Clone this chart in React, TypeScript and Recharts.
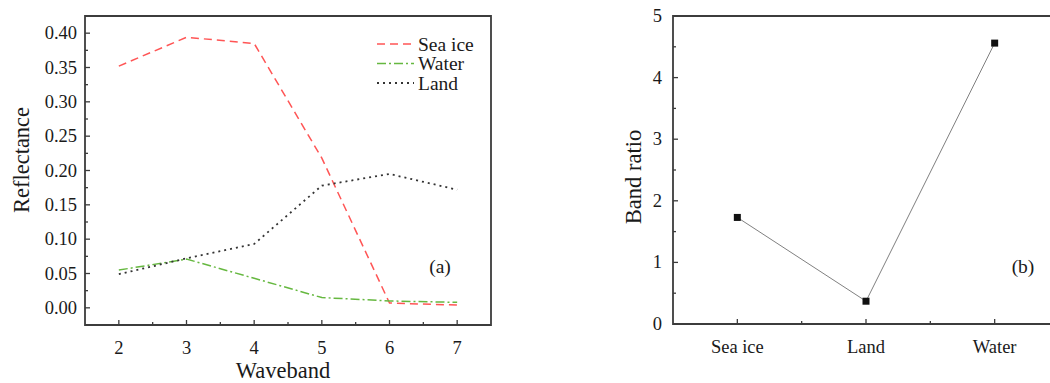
import React from "react";
import { LineChart, Line, XAxis, YAxis, ReferenceArea, Customized } from "recharts";

// panel (a): reflectance by waveband
const wavebands = [2, 3, 4, 5, 6, 7];
const seaIce = [0.352, 0.394, 0.385, 0.218, 0.007, 0.004];
const water = [0.055, 0.071, 0.043, 0.015, 0.01, 0.008];
const land = [0.049, 0.072, 0.093, 0.178, 0.195, 0.172];

const xTicksA = [2, 2.5, 3, 3.5, 4, 4.5, 5, 5.5, 6, 6.5, 7];
const xMajorA = [2, 3, 4, 5, 6, 7];
const yTicksA = [0, 0.025, 0.05, 0.075, 0.1, 0.125, 0.15, 0.175, 0.2, 0.225, 0.25, 0.275, 0.3, 0.325, 0.35, 0.375, 0.4];
const yMajorA = [0, 0.05, 0.1, 0.15, 0.2, 0.25, 0.3, 0.35, 0.4];

// panel (b): band ratio by surface type
const classes = ["Sea ice", "Land", "Water"];
const bandRatio = [1.73, 0.37, 4.56];

const xTicksB = [1, 1.5, 2, 2.5, 3];
const xMajorB = [1, 2, 3];
const yTicksB = [0, 0.5, 1, 1.5, 2, 2.5, 3, 3.5, 4, 4.5, 5];
const yMajorB = [0, 1, 2, 3, 4, 5];

const FONT = "'Liberation Serif', 'Times New Roman', serif";
const AXIS = "#3c3c3c";
const TEXT = "#1a1a1a";
const TICK_FS = 18.5;

const series = [
  { key: "seaIce", name: "Sea ice", color: "#ff5555", dash: "8 5", width: 1.5 },
  { key: "water", name: "Water", color: "#66b840", dash: "9 3 2 3", width: 1.5 },
  { key: "land", name: "Land", color: "#333333", dash: "2 4", width: 1.8 },
];

const dataA = wavebands.map((w, i) => ({ w, seaIce: seaIce[i], water: water[i], land: land[i] }));
const dataB = classes.map((c, i) => ({ pos: i + 1, name: c, ratio: bandRatio[i] }));

const xTick = (majors: number[], fmt: (v: number) => string) => (props: any) => {
  const { x, y, payload } = props;
  const major = majors.includes(payload.value);
  return (
    <g>
      <line x1={x} x2={x} y1={y} y2={y - (major ? 5 : 3)} stroke={AXIS} strokeWidth={1.3} />
      {major && (
        <text x={x} y={y + 23} textAnchor="middle" dominantBaseline="central" fontSize={TICK_FS} fontFamily={FONT} fill={TEXT}>
          {fmt(payload.value)}
        </text>
      )}
    </g>
  );
};

const yTick = (majors: number[], fmt: (v: number) => string, gap: number) => (props: any) => {
  const { x, y, payload } = props;
  const major = majors.includes(payload.value);
  return (
    <g>
      <line x1={x} x2={x + (major ? 5 : 3)} y1={y} y2={y} stroke={AXIS} strokeWidth={1.3} />
      {major && (
        <text x={x - gap} y={y} textAnchor="end" dominantBaseline="central" fontSize={TICK_FS} fontFamily={FONT} fill={TEXT}>
          {fmt(payload.value)}
        </text>
      )}
    </g>
  );
};

const SquareDot = (props: any) => {
  const { cx, cy } = props;
  if (cx == null || cy == null) return null;
  return <rect x={cx - 3.5} y={cy - 3.5} width={7} height={7} fill="#111" />;
};

const PanelA = () => (
  <LineChart width={500} height={383} data={dataA} margin={{ top: 16, right: 9, bottom: 8, left: 8 }}>
    <XAxis
      type="number"
      dataKey="w"
      domain={[1.5, 7.5]}
      ticks={xTicksA}
      interval={0}
      height={50}
      axisLine={false}
      tickLine={false}
      tickSize={0}
      tickMargin={0}
      tick={xTick(xMajorA, (v) => String(v))}
    />
    <YAxis
      type="number"
      domain={[-0.025, 0.425]}
      ticks={yTicksA}
      interval={0}
      width={77}
      axisLine={false}
      tickLine={false}
      tickSize={0}
      tickMargin={0}
      allowDataOverflow
      tick={yTick(yMajorA, (v) => v.toFixed(2), 8)}
    />
    {series.map((s) => (
      <Line
        key={s.key}
        dataKey={s.key}
        name={s.name}
        stroke={s.color}
        strokeWidth={s.width}
        strokeDasharray={s.dash}
        dot={false}
        activeDot={false}
        isAnimationActive={false}
      />
    ))}
    <ReferenceArea x1={1.5} x2={7.5} y1={-0.025} y2={0.425} fill="none" stroke={AXIS} strokeWidth={1.8} ifOverflow="visible" />
    <Customized
      component={() => (
        <g fontFamily={FONT} fill={TEXT}>
          <text x={283} y={378} textAnchor="middle" fontSize={22.5}>
            Waveband
          </text>
          <text x={21} y={160} textAnchor="middle" dominantBaseline="central" fontSize={22.5} transform="rotate(-90, 21, 160)">
            Reflectance
          </text>
          <text x={440} y={266} textAnchor="middle" dominantBaseline="central" fontSize={19.5}>
            (a)
          </text>
          {series.map((s, i) => (
            <g key={s.key}>
              <line x1={377} x2={414} y1={44 + i * 19.5} y2={44 + i * 19.5} stroke={s.color} strokeWidth={s.width} strokeDasharray={s.dash} />
              <text x={418} y={44 + i * 19.5} dominantBaseline="central" fontSize={19.5}>
                {s.name}
              </text>
            </g>
          ))}
        </g>
      )}
    />
  </LineChart>
);

const PanelB = () => (
  <LineChart width={500} height={383} data={dataB} margin={{ top: 16, right: 1, bottom: 8, left: 53 }}>
    <XAxis
      type="number"
      dataKey="pos"
      domain={[0.5, 3.5]}
      ticks={xTicksB}
      interval={0}
      height={51}
      axisLine={false}
      tickLine={false}
      tickSize={0}
      tickMargin={0}
      tick={xTick(xMajorB, (v) => classes[v - 1])}
    />
    <YAxis
      type="number"
      domain={[0, 5]}
      ticks={yTicksB}
      interval={0}
      width={60}
      axisLine={false}
      tickLine={false}
      tickSize={0}
      tickMargin={0}
      tick={yTick(yMajorB, (v) => String(v), 11)}
    />
    <Line
      dataKey="ratio"
      stroke="#808080"
      strokeWidth={1}
      dot={<SquareDot />}
      activeDot={false}
      isAnimationActive={false}
    />
    <ReferenceArea x1={0.5} x2={3.5} y1={0} y2={5} fill="none" stroke={AXIS} strokeWidth={1.8} ifOverflow="visible" />
    <Customized
      component={() => (
        <g fontFamily={FONT} fill={TEXT}>
          <text x={73} y={177} textAnchor="middle" dominantBaseline="central" fontSize={22.5} transform="rotate(-90, 73, 177)">
            Band ratio
          </text>
          <text x={463} y={266} textAnchor="middle" dominantBaseline="central" fontSize={19.5}>
            (b)
          </text>
        </g>
      )}
    />
  </LineChart>
);

export default function App() {
  return (
    <div style={{ position: "absolute", left: 0, top: 0, width: 1050, height: 383, overflow: "hidden", background: "#fff" }}>
      <div style={{ position: "absolute", left: 0, top: 0 }}>
        <PanelA />
      </div>
      <div style={{ position: "absolute", left: 560, top: 0 }}>
        <PanelB />
      </div>
    </div>
  );
}
